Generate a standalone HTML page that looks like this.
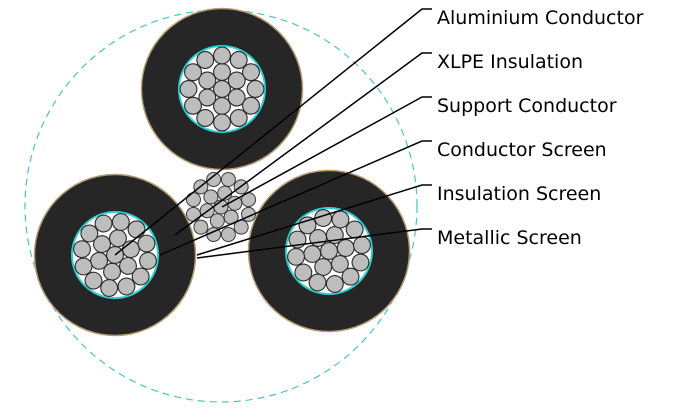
<!DOCTYPE html>
<html><head><meta charset="utf-8"><style>html,body{margin:0;padding:0;background:#fff}svg{display:block}</style></head><body>
<svg width="681" height="412" viewBox="0 0 681 412" xmlns="http://www.w3.org/2000/svg">
<defs>
<g id="cond">
<circle r="80.5" fill="#262626" stroke="#b39c72" stroke-width="1.5"/>
<circle r="44" fill="#2fd0d0"/>
<circle r="42" fill="#fff"/>
<g fill="#bdbdbd" stroke="#2a2a2a" stroke-width="1.1">
<circle cx="0" cy="0" r="8.4"/>
<circle cx="0" cy="-17" r="8.4"/><circle cx="14.7" cy="-8.5" r="8.4"/><circle cx="14.7" cy="8.5" r="8.4"/><circle cx="0" cy="17" r="8.4"/><circle cx="-14.7" cy="8.5" r="8.4"/><circle cx="-14.7" cy="-8.5" r="8.4"/>
<circle cx="0" cy="-33.5" r="8.4"/><circle cx="16.75" cy="-29" r="8.4"/><circle cx="29" cy="-16.75" r="8.4"/><circle cx="33.5" cy="0" r="8.4"/><circle cx="29" cy="16.75" r="8.4"/><circle cx="16.75" cy="29" r="8.4"/><circle cx="0" cy="33.5" r="8.4"/><circle cx="-16.75" cy="29" r="8.4"/><circle cx="-29" cy="16.75" r="8.4"/><circle cx="-33.5" cy="0" r="8.4"/><circle cx="-29" cy="-16.75" r="8.4"/><circle cx="-16.75" cy="-29" r="8.4"/>
</g>
</g>
<g id="sup" fill="#bdbdbd" stroke="#3a3a3a" stroke-width="1">
<circle cx="0" cy="0" r="7"/>
<circle cx="0" cy="-14.3" r="7"/><circle cx="12.4" cy="-7.15" r="7"/><circle cx="12.4" cy="7.15" r="7"/><circle cx="0" cy="14.3" r="7"/><circle cx="-12.4" cy="7.15" r="7"/><circle cx="-12.4" cy="-7.15" r="7"/>
<circle cx="0" cy="-28.5" r="7"/><circle cx="14.25" cy="-24.7" r="7"/><circle cx="24.7" cy="-14.25" r="7"/><circle cx="28.5" cy="0" r="7"/><circle cx="24.7" cy="14.25" r="7"/><circle cx="14.25" cy="24.7" r="7"/><circle cx="0" cy="28.5" r="7"/><circle cx="-14.25" cy="24.7" r="7"/><circle cx="-24.7" cy="14.25" r="7"/><circle cx="-28.5" cy="0" r="7"/><circle cx="-24.7" cy="-14.25" r="7"/><circle cx="-14.25" cy="-24.7" r="7"/>
</g>
</defs>
<circle cx="221" cy="206" r="196" fill="none" stroke="#4cc4c4" stroke-width="1.2" stroke-dasharray="7,5"/>
<use href="#sup" x="221" y="207" transform="rotate(15 221 207)"/>
<use href="#cond" x="222" y="89" transform="rotate(0 222 89)"/>
<use href="#cond" x="115" y="255" transform="rotate(10 115 255)"/>
<use href="#cond" x="329" y="251" transform="rotate(20 329 251)"/>
<g stroke="#000" stroke-width="1.5" fill="none">
<polyline points="432,9 422,9 115,255"/>
<polyline points="432,53 422,53 175,235"/>
<polyline points="432,97 422,97 222,207"/>
<polyline points="432,141 422,141 160,255"/>
<polyline points="432,185 422,185 197,255"/>
<polyline points="432,229 422,229 197,258"/>
</g>
<g font-family="DejaVu Sans, Liberation Sans, sans-serif" font-size="19" fill="#000">
<text x="437" y="24">Aluminium Conductor</text>
<text x="437" y="68">XLPE Insulation</text>
<text x="437" y="112">Support Conductor</text>
<text x="437" y="156">Conductor Screen</text>
<text x="437" y="200">Insulation Screen</text>
<text x="437" y="244">Metallic Screen</text>
</g>
</svg>
</body></html>
